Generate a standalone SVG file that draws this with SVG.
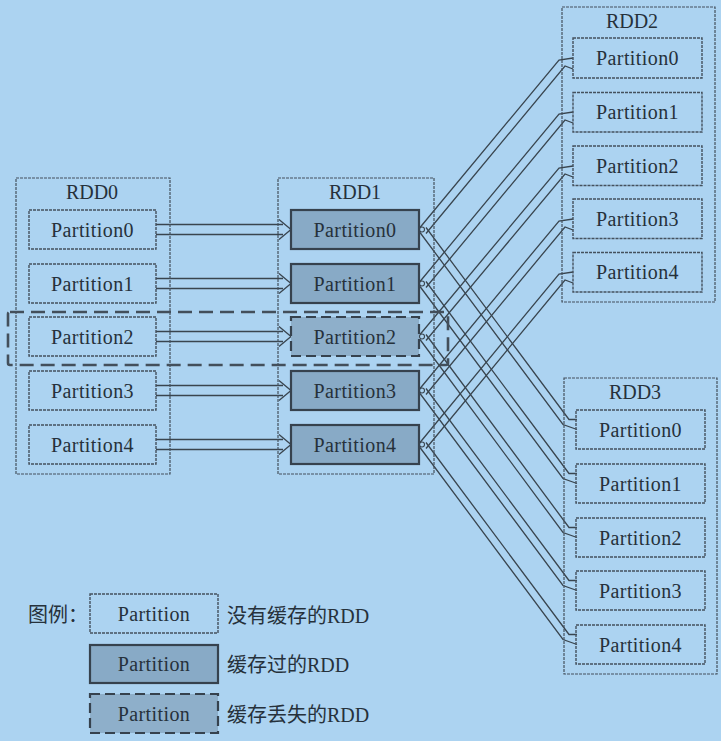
<svg xmlns="http://www.w3.org/2000/svg" width="721" height="741" viewBox="0 0 721 741">
<style>
.bg{fill:#acd3f1}
.cont{fill:none;stroke:#44515e;stroke-width:1.2;stroke-dasharray:3 1}
.part{fill:none;stroke:#44515e;stroke-width:1.4;stroke-dasharray:3 1}
.cached{fill:#88aac6;stroke:#36424e;stroke-width:2.2}
.lost{fill:#8eafca;stroke:#36424e;stroke-width:2.2;stroke-dasharray:10 5}
.t{font-family:"Liberation Serif","Times New Roman",serif;font-size:20px;fill:#26313b;text-anchor:middle;letter-spacing:0.4px}
.title{font-family:"Liberation Serif","Times New Roman",serif;font-size:20px;fill:#26313b;text-anchor:middle}
.leg{font-family:"Liberation Serif","Noto Sans CJK SC",serif;font-size:20px;fill:#26313b}
.ln{fill:none;stroke:#39454f;stroke-width:1.3}
.loop{fill:none;stroke:#39454f;stroke-width:1.1}
.hl{fill:none;stroke:#434f5b;stroke-width:2.6;stroke-dasharray:14 7}
</style>
<rect class="bg" x="0" y="0" width="721" height="741"/>

<g id="connectors">
  <path class="ln" d="M156 224.5H283M156 234.5H283M279 219.5L291 229.5L279 239.5"/>
  <path class="ln" d="M156 278.5H283M156 288.5H283M279 273.5L291 283.5L279 293.5"/>
  <path class="ln" d="M156 331.5H283M156 341.5H283M279 326.5L291 336.5L279 346.5"/>
  <path class="ln" d="M156 385.5H283M156 395.5H283M279 380.5L291 390.5L279 400.5"/>
  <path class="ln" d="M156 439.5H283M156 449.5H283M279 434.5L291 444.5L279 454.5"/>
  <path class="ln" d="M420 227.5L559 60L573 58M426 233.5L565 66L573 69"/>
  <path class="ln" d="M420 281.5L559 114L573 112M426 287.5L565 120L573 123"/>
  <path class="ln" d="M420 334.5L559 168L573 166M426 340.5L565 174L573 177"/>
  <path class="ln" d="M420 388.5L559 221L573 219M426 394.5L565 227L573 230"/>
  <path class="ln" d="M420 442.5L559 274L573 272M426 448.5L565 280L573 283"/>
  <path class="ln" d="M426 227.5L569 419.5L577 419.5M420 232.5L563 424.5L577 429.5"/>
  <path class="ln" d="M426 281.5L569 473.5L577 473.5M420 286.5L563 478.5L577 483.5"/>
  <path class="ln" d="M426 334.5L569 527.5L577 527.5M420 339.5L563 532.5L577 537.5"/>
  <path class="ln" d="M426 388.5L569 580.5L577 580.5M420 393.5L563 585.5L577 590.5"/>
  <path class="ln" d="M426 442.5L569 634.5L577 634.5M420 447.5L563 639.5L577 644.5"/>
  <circle class="loop" cx="422" cy="229.5" r="2.5"/>
  <circle class="loop" cx="422" cy="283.5" r="2.5"/>
  <circle class="loop" cx="422" cy="336.5" r="2.5"/>
  <circle class="loop" cx="422" cy="390.5" r="2.5"/>
  <circle class="loop" cx="422" cy="444.5" r="2.5"/>
</g>

<g id="rdd0">
  <rect class="cont" x="16" y="178" width="154" height="296"/>
  <text class="title" x="92" y="199">RDD0</text>
  <g id="rdd0-p0"><rect class="part" x="29" y="210" width="127" height="39"/><text class="t" x="92.5" y="236.5">Partition0</text></g>
  <g id="rdd0-p1"><rect class="part" x="29" y="264" width="127" height="39"/><text class="t" x="92.5" y="290.5">Partition1</text></g>
  <g id="rdd0-p2"><rect class="part" x="29" y="317" width="127" height="39"/><text class="t" x="92.5" y="343.5">Partition2</text></g>
  <g id="rdd0-p3"><rect class="part" x="29" y="371" width="127" height="39"/><text class="t" x="92.5" y="397.5">Partition3</text></g>
  <g id="rdd0-p4"><rect class="part" x="29" y="425" width="127" height="39"/><text class="t" x="92.5" y="451.5">Partition4</text></g>
</g>

<g id="rdd1">
  <rect class="cont" x="278" y="178" width="156" height="296"/>
  <text class="title" x="355" y="199">RDD1</text>
  <g id="rdd1-p0"><rect class="cached" x="291" y="210" width="128" height="39"/><text class="t" x="355" y="236.5">Partition0</text></g>
  <g id="rdd1-p1"><rect class="cached" x="291" y="264" width="128" height="39"/><text class="t" x="355" y="290.5">Partition1</text></g>
  <g id="rdd1-p2"><rect class="lost" x="291" y="317" width="128" height="39"/><text class="t" x="355" y="343.5">Partition2</text></g>
  <g id="rdd1-p3"><rect class="cached" x="291" y="371" width="128" height="39"/><text class="t" x="355" y="397.5">Partition3</text></g>
  <g id="rdd1-p4"><rect class="cached" x="291" y="425" width="128" height="39"/><text class="t" x="355" y="451.5">Partition4</text></g>
</g>

<g id="rdd2">
  <rect class="cont" x="562" y="7" width="153" height="295"/>
  <text class="title" x="632" y="28">RDD2</text>
  <g id="rdd2-p0"><rect class="part" x="573" y="38" width="129" height="40"/><text class="t" x="637.5" y="65">Partition0</text></g>
  <g id="rdd2-p1"><rect class="part" x="573" y="92.5" width="129" height="39.5"/><text class="t" x="637.5" y="119">Partition1</text></g>
  <g id="rdd2-p2"><rect class="part" x="573" y="146" width="129" height="39.5"/><text class="t" x="637.5" y="173">Partition2</text></g>
  <g id="rdd2-p3"><rect class="part" x="573" y="199" width="129" height="39.5"/><text class="t" x="637.5" y="226">Partition3</text></g>
  <g id="rdd2-p4"><rect class="part" x="573" y="252.5" width="129" height="39.5"/><text class="t" x="637.5" y="279">Partition4</text></g>
</g>

<g id="rdd3">
  <rect class="cont" x="564" y="378" width="153" height="296"/>
  <text class="title" x="635" y="399">RDD3</text>
  <g id="rdd3-p0"><rect class="part" x="576" y="410" width="129" height="39"/><text class="t" x="640.5" y="436.5">Partition0</text></g>
  <g id="rdd3-p1"><rect class="part" x="576" y="464" width="129" height="39"/><text class="t" x="640.5" y="490.5">Partition1</text></g>
  <g id="rdd3-p2"><rect class="part" x="576" y="518" width="129" height="39"/><text class="t" x="640.5" y="544.5">Partition2</text></g>
  <g id="rdd3-p3"><rect class="part" x="576" y="571" width="129" height="39"/><text class="t" x="640.5" y="597.5">Partition3</text></g>
  <g id="rdd3-p4"><rect class="part" x="576" y="625" width="129" height="39"/><text class="t" x="640.5" y="651.5">Partition4</text></g>
</g>

<g id="lost-highlight">
  <rect class="hl" x="8" y="312" width="440" height="53" rx="2"/>
</g>

<g id="legend">
  <text class="leg" x="28" y="622">图例：</text>
  <g id="legend-uncached"><rect class="part" x="90" y="594" width="128" height="39"/><text class="t" x="154" y="620.5">Partition</text><text class="leg" x="227" y="623">没有缓存的RDD</text></g>
  <g id="legend-cached"><rect class="cached" x="90" y="645" width="128" height="38"/><text class="t" x="154" y="671">Partition</text><text class="leg" x="227" y="672">缓存过的RDD</text></g>
  <g id="legend-lost"><rect class="lost" x="90" y="694" width="128" height="39"/><text class="t" x="154" y="720.5">Partition</text><text class="leg" x="227" y="722">缓存丢失的RDD</text></g>
</g>
</svg>
